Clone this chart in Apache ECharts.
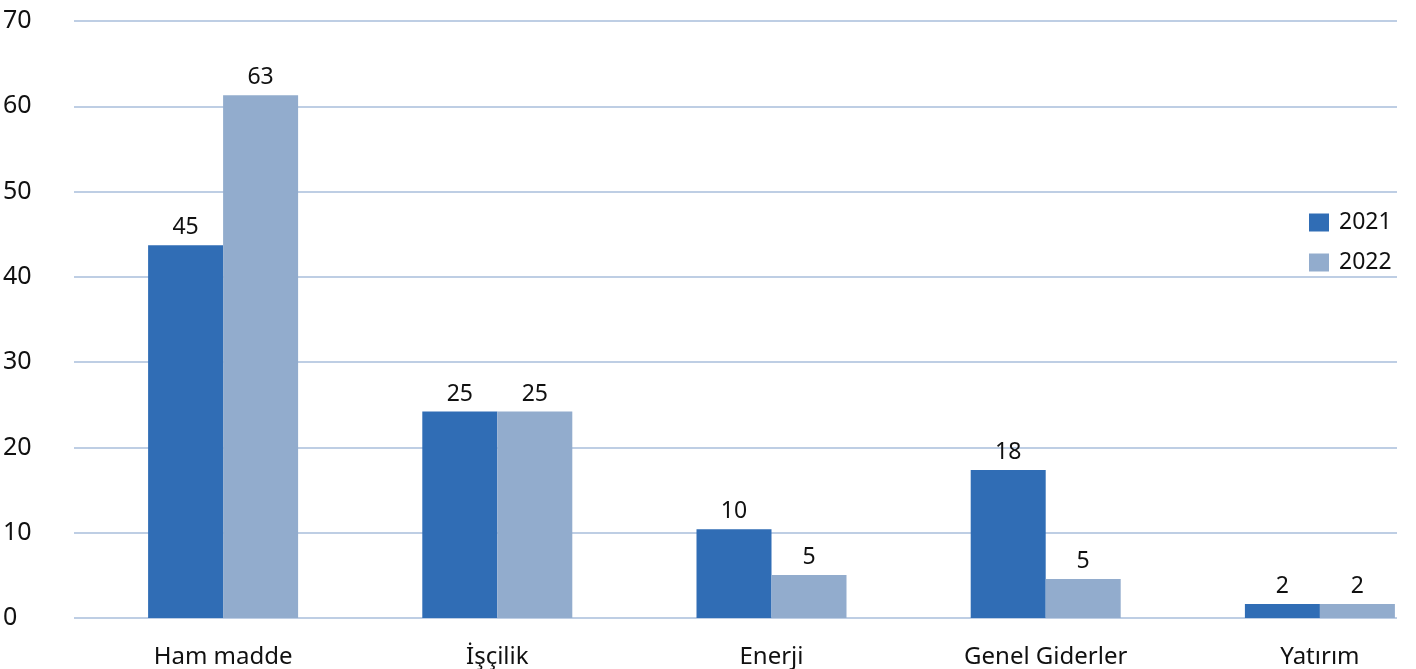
<!DOCTYPE html>
<html>
<head>
<meta charset="utf-8">
<script src="https://cdn.jsdelivr.net/npm/echarts@6/dist/echarts.min.js"></script>
<style>
html,body{margin:0;padding:0;background:#fff;overflow:hidden;width:1416px;height:669px;}
#c{width:1460px;height:669px;}
</style>
</head>
<body>
<div id="c"></div>
<script>
const categories = ["Ham madde", "İşçilik", "Enerji", "Genel Giderler", "Yatırım"];
const values2021 = [43.7, 24.2, 10.4, 17.35, 1.64];
const values2022 = [61.3, 24.2, 5.04, 4.57, 1.64];
const labels2021 = ["45", "25", "10", "18", "2"];
const labels2022 = ["63", "25", "5", "5", "2"];
const yTicks = [0, 10, 20, 30, 40, 50, 60, 70];

const FONT = "Noto Sans";
const chart = echarts.init(document.getElementById('c'), null, {renderer: 'canvas'});

const yMin = yTicks[0], yMax = yTicks[yTicks.length - 1], yStep = yTicks[1] - yTicks[0];

chart.setOption({
  animation: false,
  backgroundColor: '#ffffff',
  textStyle: {fontFamily: FONT},
  legend: {
    orient: 'vertical',
    left: 1309,
    top: 211,
    padding: 0,
    itemWidth: 20,
    itemHeight: 18,
    itemGap: 17,
    icon: 'rect',
    textStyle: {fontFamily: FONT, fontSize: 23, color: '#111', padding: [0, 0, 0, 5]},
    data: ['2021', '2022']
  },
  grid: [
    {left: 74, right: 63, top: 21, bottom: 51, containLabel: false},
    {left: 86, width: 1371, top: 21, bottom: 51, containLabel: false}
  ],
  xAxis: [
    {gridIndex: 0, type: 'category', data: categories, show: false},
    {
      gridIndex: 1, type: 'category', data: categories,
      axisLine: {show: false}, axisTick: {show: false},
      axisLabel: {fontFamily: FONT, fontSize: 24, color: '#111', margin: 27}
    }
  ],
  yAxis: [
    {
      gridIndex: 0, type: 'value', min: yMin, max: yMax, interval: yStep,
      axisLine: {show: false}, axisTick: {show: false},
      splitLine: {lineStyle: {color: '#a9bedb', width: 1.5}},
      axisLabel: {fontFamily: FONT, fontSize: 25, color: '#111', align: 'left', margin: 71}
    },
    {
      gridIndex: 1, type: 'value', min: yMin, max: yMax, interval: yStep,
      show: false, splitLine: {show: false}
    }
  ],
  series: [
    {
      name: '2021', type: 'bar', xAxisIndex: 1, yAxisIndex: 1,
      data: values2021, barWidth: 75, barGap: '0%',
      itemStyle: {color: '#306db5'},
      label: {
        show: true, position: 'top', distance: 6,
        fontFamily: FONT, fontSize: 23, color: '#111',
        formatter: p => labels2021[p.dataIndex]
      }
    },
    {
      name: '2022', type: 'bar', xAxisIndex: 1, yAxisIndex: 1,
      data: values2022, barWidth: 75, barGap: '0%',
      itemStyle: {color: '#92accd'},
      label: {
        show: true, position: 'top', distance: 6,
        fontFamily: FONT, fontSize: 23, color: '#111',
        formatter: p => labels2022[p.dataIndex]
      }
    }
  ]
});
</script>
</body>
</html>
